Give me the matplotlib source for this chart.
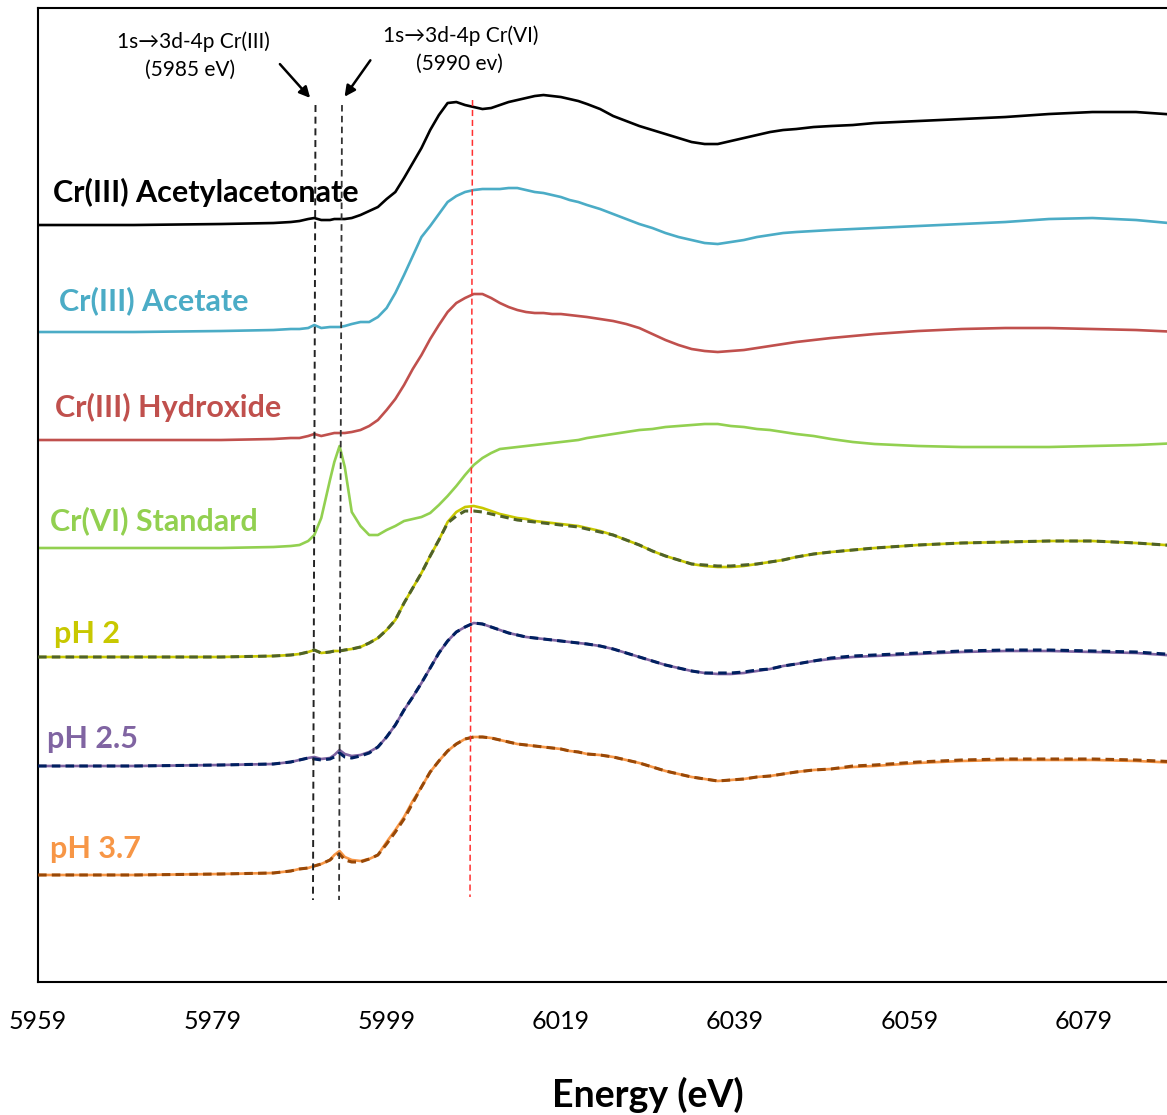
import matplotlib.pyplot as plt

plt.rcParams['font.family'] = ['Lato', 'DejaVu Sans']

# Energy grid (eV) shared by every spectrum
energy = [5959, 5970, 5980, 5986, 5988, 5989, 5990, 5990.7, 5991.5, 5992.5,
          5993, 5993.6, 5994.2, 5995, 5996, 5997, 5998, 5999, 6000, 6001,
          6002, 6003, 6004, 6005, 6006, 6007, 6008, 6009, 6010, 6011,
          6012, 6013, 6014, 6015, 6016, 6017, 6018, 6019, 6020, 6021,
          6022, 6023.5, 6025, 6026.5, 6028, 6029.5, 6031, 6032.5, 6034, 6035.5,
          6037, 6038.5, 6040, 6041.5, 6043, 6044.5, 6046, 6048, 6050, 6052.5,
          6055, 6060, 6065, 6070, 6075, 6080, 6085, 6090]

# Normalised absorbance, stacked with vertical offsets
cr3_acac = [7.57, 7.57, 7.58, 7.59, 7.60, 7.61, 7.63, 7.64, 7.62, 7.62,
            7.63, 7.63, 7.63, 7.64, 7.67, 7.71, 7.75, 7.83, 7.90, 8.04,
            8.19, 8.34, 8.52, 8.67, 8.79, 8.80, 8.77, 8.75, 8.73, 8.74,
            8.77, 8.80, 8.82, 8.84, 8.86, 8.87, 8.86, 8.85, 8.83, 8.81,
            8.78, 8.73, 8.66, 8.61, 8.56, 8.52, 8.48, 8.44, 8.40, 8.38,
            8.38, 8.41, 8.44, 8.47, 8.50, 8.52, 8.53, 8.55, 8.56, 8.57,
            8.59, 8.61, 8.63, 8.65, 8.68, 8.70, 8.70, 8.67]
cr3_acetate = [6.50, 6.50, 6.51, 6.52, 6.53, 6.53, 6.54, 6.57, 6.54, 6.55,
               6.55, 6.55, 6.56, 6.58, 6.60, 6.60, 6.65, 6.74, 6.89, 7.07,
               7.26, 7.45, 7.56, 7.68, 7.80, 7.86, 7.90, 7.92, 7.93, 7.93,
               7.93, 7.94, 7.94, 7.92, 7.90, 7.89, 7.87, 7.85, 7.82, 7.80,
               7.77, 7.73, 7.68, 7.63, 7.58, 7.54, 7.49, 7.45, 7.42, 7.39,
               7.38, 7.40, 7.42, 7.45, 7.47, 7.49, 7.50, 7.51, 7.52, 7.53,
               7.54, 7.56, 7.58, 7.60, 7.63, 7.64, 7.62, 7.58]
cr3_hydroxide = [5.42, 5.42, 5.42, 5.43, 5.44, 5.44, 5.46, 5.48, 5.46, 5.48,
                 5.49, 5.49, 5.49, 5.50, 5.52, 5.56, 5.62, 5.72, 5.83, 5.97,
                 6.13, 6.27, 6.43, 6.57, 6.70, 6.79, 6.84, 6.88, 6.88, 6.84,
                 6.79, 6.75, 6.72, 6.70, 6.69, 6.69, 6.68, 6.68, 6.67, 6.66,
                 6.65, 6.63, 6.61, 6.58, 6.54, 6.48, 6.42, 6.37, 6.33, 6.31,
                 6.30, 6.31, 6.32, 6.34, 6.36, 6.38, 6.40, 6.42, 6.44, 6.46,
                 6.48, 6.51, 6.53, 6.54, 6.54, 6.53, 6.52, 6.50]
cr6_standard = [4.34, 4.34, 4.34, 4.35, 4.36, 4.37, 4.41, 4.47, 4.64, 5.02,
                5.20, 5.36, 5.15, 4.70, 4.56, 4.47, 4.47, 4.52, 4.56, 4.61,
                4.63, 4.65, 4.69, 4.77, 4.86, 4.96, 5.07, 5.17, 5.24, 5.29,
                5.33, 5.34, 5.35, 5.36, 5.37, 5.38, 5.39, 5.40, 5.41, 5.42,
                5.44, 5.46, 5.48, 5.50, 5.52, 5.53, 5.55, 5.56, 5.57, 5.58,
                5.58, 5.56, 5.55, 5.53, 5.52, 5.50, 5.48, 5.46, 5.43, 5.40,
                5.38, 5.36, 5.35, 5.35, 5.35, 5.36, 5.37, 5.39]
ph2 = [3.25, 3.25, 3.25, 3.26, 3.27, 3.28, 3.30, 3.32, 3.29, 3.30,
       3.31, 3.31, 3.32, 3.33, 3.35, 3.39, 3.44, 3.52, 3.62, 3.79,
       3.94, 4.09, 4.26, 4.42, 4.60, 4.70, 4.75, 4.76, 4.74, 4.71,
       4.68, 4.66, 4.64, 4.63, 4.61, 4.60, 4.59, 4.58, 4.57, 4.56,
       4.54, 4.51, 4.47, 4.42, 4.37, 4.31, 4.26, 4.22, 4.18, 4.16,
       4.15, 4.15, 4.16, 4.18, 4.20, 4.22, 4.25, 4.28, 4.30, 4.32,
       4.34, 4.37, 4.39, 4.40, 4.41, 4.41, 4.39, 4.36]
ph2_fit = [3.25, 3.25, 3.25, 3.26, 3.27, 3.28, 3.30, 3.32, 3.29, 3.30,
           3.31, 3.31, 3.32, 3.33, 3.35, 3.39, 3.44, 3.52, 3.62, 3.79,
           3.94, 4.09, 4.26, 4.42, 4.59, 4.66, 4.71, 4.71, 4.70, 4.68,
           4.66, 4.64, 4.62, 4.61, 4.60, 4.59, 4.58, 4.57, 4.56, 4.55,
           4.53, 4.50, 4.47, 4.42, 4.37, 4.31, 4.26, 4.22, 4.18, 4.17,
           4.16, 4.16, 4.17, 4.18, 4.20, 4.22, 4.25, 4.28, 4.30, 4.32,
           4.34, 4.37, 4.39, 4.40, 4.41, 4.41, 4.39, 4.36]
ph25 = [2.16, 2.16, 2.17, 2.18, 2.20, 2.22, 2.24, 2.25, 2.23, 2.24,
        2.27, 2.32, 2.28, 2.26, 2.27, 2.30, 2.35, 2.45, 2.57, 2.72,
        2.85, 2.99, 3.14, 3.29, 3.41, 3.50, 3.55, 3.59, 3.58, 3.55,
        3.52, 3.49, 3.47, 3.45, 3.44, 3.43, 3.42, 3.41, 3.40, 3.39,
        3.38, 3.36, 3.33, 3.29, 3.25, 3.21, 3.17, 3.14, 3.11, 3.09,
        3.08, 3.08, 3.09, 3.11, 3.13, 3.16, 3.18, 3.21, 3.23, 3.25,
        3.26, 3.28, 3.30, 3.31, 3.31, 3.30, 3.29, 3.26]
ph25_fit = [2.16, 2.16, 2.17, 2.18, 2.20, 2.22, 2.24, 2.23, 2.22, 2.23,
            2.25, 2.29, 2.25, 2.24, 2.26, 2.29, 2.35, 2.45, 2.57, 2.72,
            2.85, 2.99, 3.14, 3.29, 3.41, 3.50, 3.55, 3.59, 3.58, 3.55,
            3.52, 3.49, 3.47, 3.45, 3.44, 3.43, 3.42, 3.41, 3.40, 3.39,
            3.38, 3.36, 3.33, 3.29, 3.25, 3.21, 3.17, 3.14, 3.11, 3.09,
            3.09, 3.09, 3.10, 3.12, 3.13, 3.16, 3.18, 3.21, 3.24, 3.26,
            3.27, 3.29, 3.31, 3.32, 3.32, 3.31, 3.30, 3.27]
ph37 = [1.07, 1.07, 1.08, 1.09, 1.11, 1.13, 1.14, 1.16, 1.18, 1.22,
        1.27, 1.31, 1.25, 1.22, 1.21, 1.23, 1.27, 1.40, 1.52, 1.65,
        1.81, 1.95, 2.10, 2.21, 2.31, 2.38, 2.43, 2.45, 2.45, 2.44,
        2.42, 2.40, 2.38, 2.37, 2.36, 2.35, 2.34, 2.33, 2.31, 2.30,
        2.28, 2.27, 2.25, 2.22, 2.19, 2.15, 2.11, 2.08, 2.05, 2.03,
        2.01, 2.02, 2.03, 2.05, 2.06, 2.08, 2.10, 2.12, 2.13, 2.15,
        2.16, 2.19, 2.21, 2.22, 2.22, 2.22, 2.21, 2.19]
ph37_fit = [1.07, 1.07, 1.08, 1.09, 1.11, 1.13, 1.14, 1.16, 1.18, 1.22,
            1.26, 1.28, 1.22, 1.20, 1.20, 1.23, 1.27, 1.38, 1.50, 1.63,
            1.79, 1.95, 2.10, 2.21, 2.31, 2.38, 2.43, 2.45, 2.45, 2.44,
            2.42, 2.40, 2.38, 2.37, 2.36, 2.35, 2.34, 2.33, 2.31, 2.30,
            2.28, 2.27, 2.25, 2.22, 2.19, 2.15, 2.11, 2.08, 2.05, 2.03,
            2.01, 2.02, 2.03, 2.05, 2.06, 2.08, 2.10, 2.12, 2.13, 2.16,
            2.17, 2.20, 2.22, 2.23, 2.23, 2.23, 2.22, 2.20]

series = [
    ("Cr(III) Acetylacetonate", cr3_acac, "#000000"),
    ("Cr(III) Acetate", cr3_acetate, "#4bacc6"),
    ("Cr(III) Hydroxide", cr3_hydroxide, "#c0504d"),
    ("Cr(VI) Standard", cr6_standard, "#92d050"),
    ("pH 2", ph2, "#c8c800"),
    ("pH 2.5", ph25, "#8064a2"),
    ("pH 3.7", ph37, "#f79646"),
]
fits = [
    (ph2_fit, "#4f6228"),
    (ph25_fit, "#002060"),
    (ph37_fit, "#984807"),
]

# label anchor (energy, y) for each series name
label_pos = [(5960.7, 7.90), (5961.4, 6.81), (5960.9, 5.75), (5960.4, 4.61),
             (5960.8, 3.48), (5960.0, 2.43), (5960.4, 1.33)]

# pre-edge and edge markers: (energy at top, energy at bottom)
preedge_cr3 = (5990.84, 5990.55)
preedge_cr6 = (5993.88, 5993.54)
edge_line = (6008.86, 6008.57)

fig = plt.figure(figsize=(11.67, 11.15), dpi=100)
ax = fig.add_axes([0.0326, 0.1193, 1.0454, 0.8735])

for name, vals, col in series:
    ax.plot(energy, vals, color=col, lw=1.9, zorder=2,
            solid_joinstyle='round')
for vals, col in fits:
    ax.plot(energy, vals, color=col, lw=2.2, ls=(0, (2.8, 1.7)), zorder=3)

for (name, vals, col), (lx, ly) in zip(series, label_pos):
    ax.text(lx, ly, name, color=col, fontsize=22, fontweight='bold',
            ha='left', va='center', zorder=1)

ax.plot(preedge_cr3, [8.77, 0.82], color='#222222', lw=1.4,
        ls=(0, (3.6, 2.4)), zorder=4)
ax.plot(preedge_cr6, [8.77, 0.82], color='#333333', lw=1.3,
        ls=(0, (3.6, 2.4)), zorder=4)
ax.plot(edge_line, [8.82, 0.85], color='#ff3030', lw=1.1,
        ls=(0, (4, 2.5)), zorder=4)

arrow = dict(arrowstyle='-|>', color='black', lw=1.8, mutation_scale=16)
ax.annotate('', xy=(5990.44, 8.82), xytext=(5986.54, 9.20), arrowprops=arrow)
ax.annotate('', xy=(5993.99, 8.83), xytext=(5997.32, 9.24), arrowprops=arrow)
ax.text(5976.8, 9.40, '1s\u21923d-4p Cr(III)', fontsize=15, ha='center', va='center')
ax.text(5976.4, 9.12, '(5985 eV)', fontsize=15, ha='center', va='center')
ax.text(6007.5, 9.46, '1s\u21923d-4p Cr(VI)', fontsize=15, ha='center', va='center')
ax.text(6007.3, 9.18, '(5990 ev)', fontsize=15, ha='center', va='center')

ax.set_xlim(5959, 6099)
ax.set_ylim(0, 9.74)
ax.set_xticks(range(5959, 6080, 20))
ax.set_yticks([])
ax.tick_params(axis='x', length=0, pad=20, labelsize=18)
ax.set_xlabel('Energy (eV)', fontsize=27, fontweight='bold', labelpad=32)
for side in ('left', 'bottom', 'top'):
    ax.spines[side].set_linewidth(1.5)
ax.spines['right'].set_visible(False)

fig.savefig('out.png', dpi=100)
